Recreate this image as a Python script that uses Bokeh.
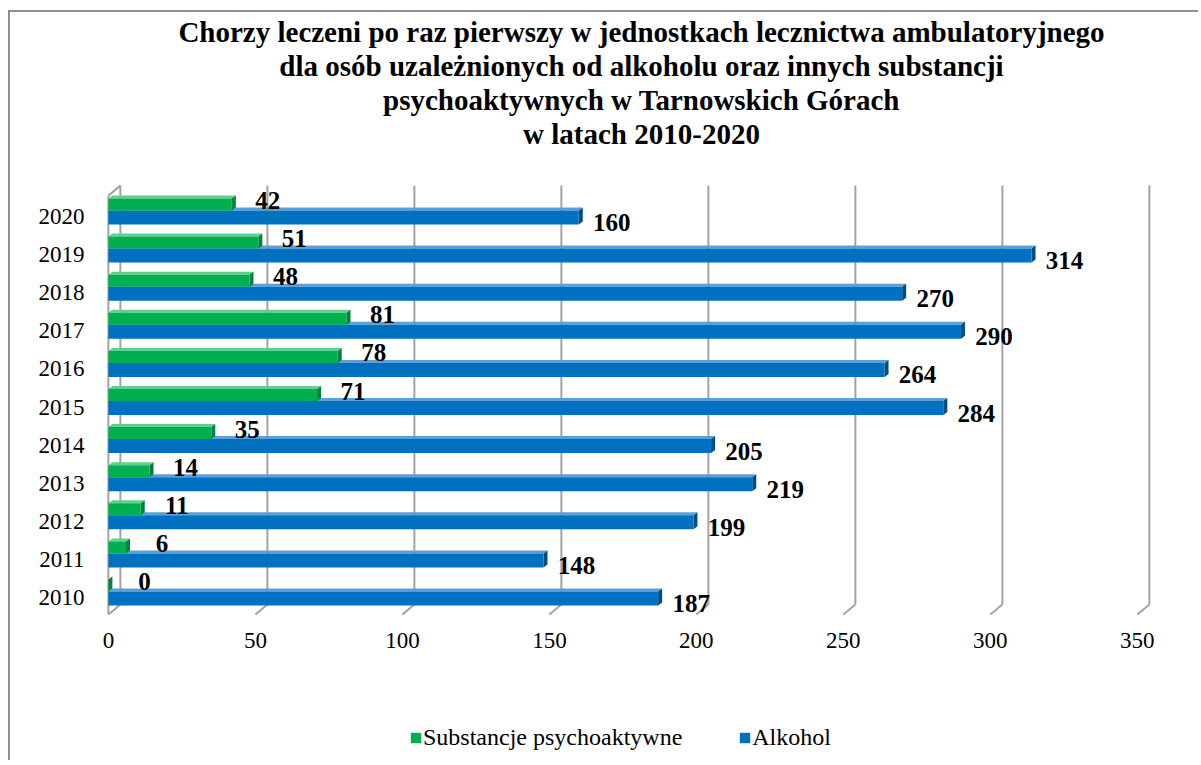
from bokeh.plotting import figure
from bokeh.models import (Range1d, FixedTicker, Legend, LegendItem, ColumnDataSource, Title)
from bokeh.layouts import column
from bokeh.core.properties import value
from bokeh.embed import file_html
from bokeh.resources import INLINE

# ---------------- data ----------------
years = ["2010", "2011", "2012", "2013", "2014", "2015", "2016", "2017", "2018", "2019", "2020"]
substancje = [0, 6, 11, 14, 35, 71, 78, 81, 48, 51, 42]
alkohol = [187, 148, 199, 219, 205, 284, 264, 290, 270, 314, 160]
x_ticks = [0, 50, 100, 150, 200, 250, 300, 350]
series_names = ["Substancje psychoaktywne", "Alkohol"]
title_lines = [
    "Chorzy leczeni po raz pierwszy w jednostkach lecznictwa ambulatoryjnego",
    "dla osób uzależnionych od alkoholu oraz innych substancji",
    "psychoaktywnych w Tarnowskich Górach",
    "w latach 2010-2020",
]

# ---------------- style ----------------
FONT = "Liberation Serif"
GREEN, GREEN_TOP, GREEN_END = "#00B050", "#5fd08e", "#00843c"
BLUE, BLUE_TOP, BLUE_END = "#0070C0", "#5a9fd6", "#004d86"
GRID = "#a3a3a3"

PX_X = 2.94      # pixels per x unit
PX_Y = 38.1      # pixels per category
WALL_DX, WALL_DY = 12 / PX_X, 10 / PX_Y    # 3D depth of the walls
BAR_DX, BAR_DY = 4 / PX_X, 3 / PX_Y        # 3D depth of the bars

n = len(years)
idx = list(range(n))

p = figure(width=1188, height=688, output_backend="svg", toolbar_location=None,
           x_range=Range1d(-2, 364.67), y_range=Range1d(-0.55, 11.758),
           min_border_left=92, min_border_right=18, min_border_top=137, min_border_bottom=82)
p.background_fill_color = "white"
p.border_fill_color = "white"
p.outline_line_color = None
p.grid.visible = False

# ---- walls / gridlines (3D style) ----
yb = -0.184
yt = n - 0.19
gx = [t + WALL_DX for t in x_ticks]
p.segment(x0=gx, y0=[yb] * len(gx), x1=gx, y1=[yt] * len(gx), line_color=GRID, line_width=2)
p.segment(x0=gx, y0=[yb] * len(gx), x1=x_ticks, y1=[yb - WALL_DY] * len(gx), line_color=GRID, line_width=2)
p.segment(x0=[0], y0=[yb - WALL_DY], x1=[0], y1=[yt - WALL_DY], line_color=GRID, line_width=2)
p.segment(x0=[0], y0=[yt - WALL_DY], x1=[WALL_DX], y1=[yt], line_color=GRID, line_width=2)


def draw_bars(vals, lo, hi, front, top, end):
    bottoms = [i + lo for i in idx]
    tops = [i + hi for i in idx]
    top_xs = [[0, v, v + BAR_DX, BAR_DX] for v in vals]
    top_ys = [[t, t, t + BAR_DY, t + BAR_DY] for t in tops]
    end_xs = [[v, v, v + BAR_DX, v + BAR_DX] for v in vals]
    end_ys = [[b, t, t + BAR_DY, b + BAR_DY] for b, t in zip(bottoms, tops)]
    p.patches(xs=top_xs, ys=top_ys, fill_color=top, line_color=None)
    p.patches(xs=end_xs, ys=end_ys, fill_color=end, line_color=None)
    src = ColumnDataSource(dict(left=[0] * n, right=vals, bottom=bottoms, top=tops))
    return p.quad(left="left", right="right", bottom="bottom", top="top", source=src,
                  fill_color=front, line_color=None)


r_blue = draw_bars(alkohol, -8 / PX_Y, 6 / PX_Y, BLUE, BLUE_TOP, BLUE_END)
r_green = draw_bars(substancje, 6 / PX_Y, 18 / PX_Y, GREEN, GREEN_TOP, GREEN_END)

# ---- data labels ----
p.text(x=alkohol, y=idx, text=[str(v) for v in alkohol], x_offset=33, y_offset=6,
       text_align="center", text_baseline="middle", text_font=value(FONT),
       text_font_style="bold", text_font_size="25px", text_color="black")
p.text(x=substancje, y=idx, text=[str(v) for v in substancje], x_offset=36, y_offset=-16,
       text_align="center", text_baseline="middle", text_font=value(FONT),
       text_font_style="bold", text_font_size="25px", text_color="black")

# ---- axes ----
p.xaxis.ticker = FixedTicker(ticks=x_ticks)
p.yaxis.ticker = FixedTicker(ticks=idx)
p.yaxis.major_label_overrides = {i: y for i, y in zip(idx, years)}
for ax in (p.xaxis[0], p.yaxis[0]):
    ax.axis_line_color = None
    ax.major_tick_line_color = None
    ax.minor_tick_line_color = None
    ax.major_label_text_font = FONT
    ax.major_label_text_font_size = "23px"
    ax.major_label_text_color = "black"
p.xaxis.major_label_standoff = 8
p.yaxis.major_label_standoff = 12


# ---- title (one Title per line; first added sits nearest the frame) ----
def style_title(t):
    t.align = "center"
    t.text_font = FONT
    t.text_font_size = "29px"
    t.text_font_style = "bold"
    t.text_color = "black"
    t.standoff = 0


p.title.text = title_lines[0]
style_title(p.title)
for line in reversed(title_lines[1:]):
    t = Title(text=line)
    style_title(t)
    p.add_layout(t, "above")

# ---- legend (in its own strip under the chart; swatch glyphs kept off-view) ----
pl = figure(width=1188, height=60, output_backend="svg", toolbar_location=None,
            x_range=Range1d(0, 1), y_range=Range1d(0, 1),
            x_axis_location=None, y_axis_location=None,
            min_border=0, min_border_left=0, min_border_right=0,
            min_border_top=0, min_border_bottom=0)
pl.outline_line_color = None
pl.grid.visible = False
lg_green = pl.quad(left=[-3], right=[-2], bottom=[-3], top=[-2], fill_color=GREEN, line_color=None)
lg_blue = pl.quad(left=[-3], right=[-2], bottom=[-3], top=[-2], fill_color=BLUE, line_color=None)
legend = Legend(items=[LegendItem(label=series_names[0], renderers=[lg_green]),
                       LegendItem(label=series_names[1], renderers=[lg_blue])],
                orientation="horizontal", location=(307, 9),
                border_line_color=None, background_fill_alpha=0, padding=0, margin=0,
                spacing=56, label_standoff=1, glyph_width=13, glyph_height=13,
                label_text_font=FONT, label_text_font_size="24px", label_text_color="black")
pl.add_layout(legend, "center")

root = column(p, pl, spacing=0,
              styles={"margin-left": "8px", "margin-top": "10px",
                      "border-left": "2px solid #8f8f8f",
                      "border-top": "2px solid #8f8f8f"})

open("out.html", "w").write(file_html(root, INLINE))
